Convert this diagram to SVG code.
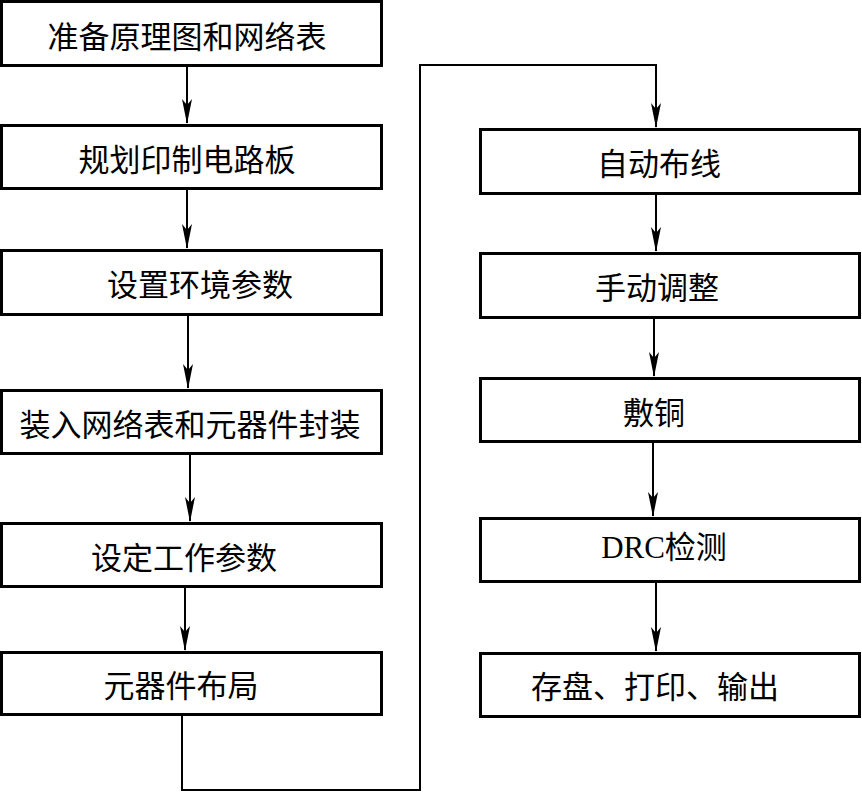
<svg xmlns="http://www.w3.org/2000/svg" width="862" height="792" viewBox="0 0 862 792">
<style>
.box{fill:#fff;stroke:#000;stroke-width:3}
.t{font-family:"Liberation Serif","Noto Sans CJK SC",serif;font-size:31px;text-anchor:middle;fill:#000}
.c{fill:none;stroke:#000;stroke-width:2}
</style>
<defs>
<marker id="ah" markerUnits="userSpaceOnUse" markerWidth="26" markerHeight="12" refX="24" refY="5" orient="auto" viewBox="0 0 26 10">
<path d="M0,0 L6,5 L0,10 L25,5 Z" fill="#000"/>
</marker>
</defs>
<rect width="862" height="792" fill="#fff"/>
<g id="connectors">
<path class="c" d="M187,67 V123" marker-end="url(#ah)"/>
<path class="c" d="M187,190 V248" marker-end="url(#ah)"/>
<path class="c" d="M188,316 V388" marker-end="url(#ah)"/>
<path class="c" d="M190,455 V521" marker-end="url(#ah)"/>
<path class="c" d="M185,588 V650" marker-end="url(#ah)"/>
<path class="c" d="M182,716 V790 H420 V65 H656 V127" marker-end="url(#ah)"/>
<path class="c" d="M656,195 V251" marker-end="url(#ah)"/>
<path class="c" d="M654,319 V376" marker-end="url(#ah)"/>
<path class="c" d="M653,443 V516" marker-end="url(#ah)"/>
<path class="c" d="M656,583 V651" marker-end="url(#ah)"/>
</g>
<g id="n1"><rect class="box" x="1.5" y="1.5" width="380" height="64"/><text class="t" x="187" y="48">准备原理图和网络表</text></g>
<g id="n2"><rect class="box" x="1.5" y="125.5" width="380" height="63"/><text class="t" x="187" y="171">规划印制电路板</text></g>
<g id="n3"><rect class="box" x="1.5" y="250.5" width="380" height="64"/><text class="t" x="200" y="296">设置环境参数</text></g>
<g id="n4"><rect class="box" x="1.5" y="390.5" width="380" height="63"/><text class="t" x="190" y="436">装入网络表和元器件封装</text></g>
<g id="n5"><rect class="box" x="1.5" y="523.5" width="380" height="63"/><text class="t" x="184" y="569">设定工作参数</text></g>
<g id="n6"><rect class="box" x="1.5" y="652.5" width="380" height="62"/><text class="t" x="181" y="697">元器件布局</text></g>
<g id="n7"><rect class="box" x="480.5" y="129.5" width="379" height="64"/><text class="t" x="659" y="175">自动布线</text></g>
<g id="n8"><rect class="box" x="480.5" y="253.5" width="379" height="64"/><text class="t" x="657" y="299">手动调整</text></g>
<g id="n9"><rect class="box" x="480.5" y="378.5" width="379" height="63"/><text class="t" x="654" y="424">敷铜</text></g>
<g id="n10"><rect class="box" x="480.5" y="518.5" width="379" height="63"/><text class="t" x="664" y="558">DRC检测</text></g>
<g id="n11"><rect class="box" x="480.5" y="653.5" width="379" height="63"/><text class="t" x="655" y="698">存盘、打印、输出</text></g>
</svg>
